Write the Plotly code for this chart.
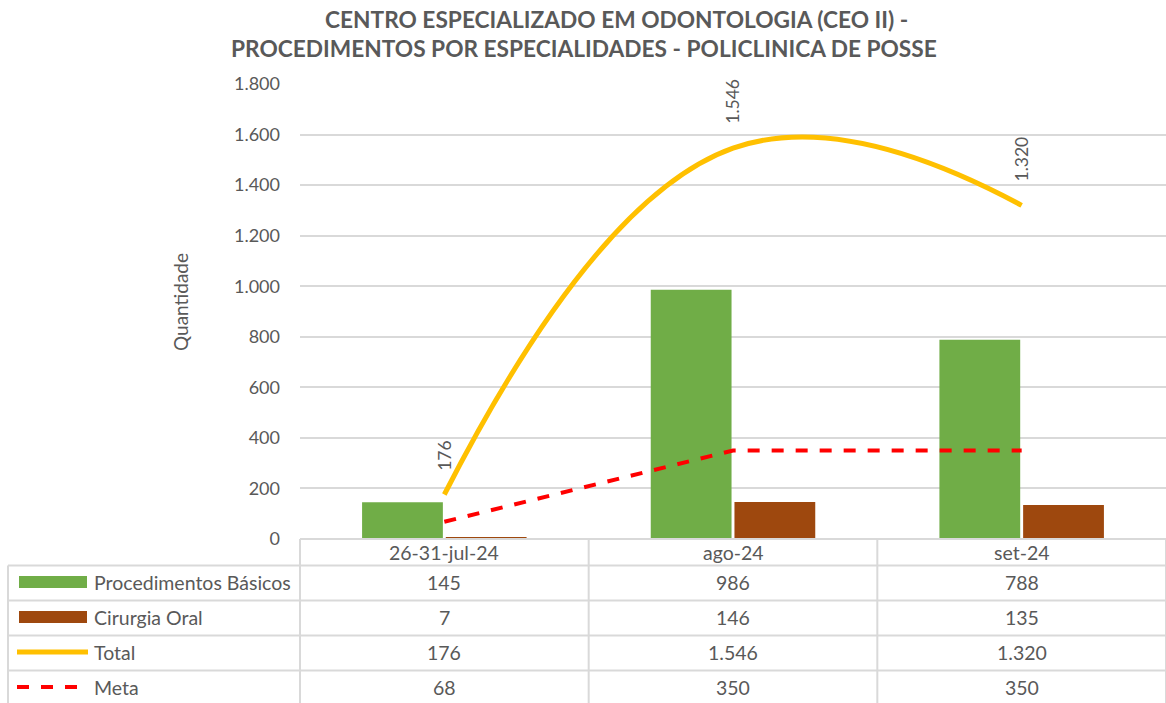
import plotly.graph_objects as go

categories = ["26-31-jul-24", "ago-24", "set-24"]
basicos = [145, 986, 788]
cirurgia = [7, 146, 135]
total = [176, 1546, 1320]
meta = [68, 350, 350]
series_names = ["Procedimentos Básicos", "Cirurgia Oral", "Total", "Meta"]
yticks = [0, 200, 400, 600, 800, 1000, 1200, 1400, 1600, 1800]
title_lines = ["CENTRO ESPECIALIZADO EM ODONTOLOGIA (CEO II) -",
               "PROCEDIMENTOS POR ESPECIALIDADES - POLICLINICA DE POSSE"]

GREEN = "#70AD47"
BROWN = "#9E480E"
YELLOW = "#FFC000"
RED = "#FF0000"
TXT = "#595959"
GRID = "#D9D9D9"
FONT = "Lato"
TABLE_SIZE = 19.5

W, H = 1166, 703
L, R, T, B = 300, 0, 84, 164
PW = W - L - R
PH = H - T - B
Y0 = H - B  # pixel y of plot bottom


def fmt(v):
    return f"{v:,}".replace(",", ".")


def px_x(px):
    return (px - L) / PW


def px_y(py):
    return (Y0 - py) / PH


xpos = [i + 0.5 for i in range(len(categories))]

fig = go.Figure()
fig.add_trace(go.Bar(x=xpos, y=basicos, name=series_names[0], marker=dict(color=GREEN, line=dict(width=0))))
fig.add_trace(go.Bar(x=xpos, y=cirurgia, name=series_names[1], marker=dict(color=BROWN, line=dict(width=0))))
fig.add_trace(go.Scatter(x=xpos, y=total, name=series_names[2], mode="lines",
                         line=dict(color=YELLOW, width=5, shape="spline", smoothing=1.25)))
fig.add_trace(go.Scatter(x=xpos, y=meta, name=series_names[3], mode="lines",
                         line=dict(color=RED, width=4, dash="dash")))

shapes = []
annotations = []

# Title (two centred lines)
for txt, cx, cy in zip(title_lines, [616, 584], [19, 48]):
    annotations.append(dict(x=px_x(cx), y=px_y(cy), xref="paper", yref="paper", text=f"<b>{txt}</b>",
                            showarrow=False, xanchor="center", yanchor="middle",
                            font=dict(family=FONT, size=22.7, color=TXT)))

# Total data labels (rotated)
for x, v in zip(xpos, total):
    annotations.append(dict(x=x, y=v, xref="x", yref="y", text=fmt(v), showarrow=False,
                            textangle=-90, yanchor="bottom", xanchor="center", yshift=22,
                            font=dict(family=FONT, size=17.5, color=TXT)))

# Data table
col_edges = [L + i * PW / len(categories) for i in range(len(categories) + 1)]
row_edges = [539, 565.5, 600.5, 635.5, 670.5, 705.5]
table_left = 8
line_style = dict(color=GRID, width=2)

shapes.append(dict(type="line", xref="paper", yref="paper", x0=px_x(L), x1=px_x(W),
                   y0=px_y(row_edges[0]), y1=px_y(row_edges[0]), line=line_style))
for ry in row_edges[1:]:
    shapes.append(dict(type="line", xref="paper", yref="paper", x0=px_x(table_left), x1=px_x(W),
                       y0=px_y(ry), y1=px_y(ry), line=line_style))
for cx in col_edges:
    shapes.append(dict(type="line", xref="paper", yref="paper", x0=px_x(cx), x1=px_x(cx),
                       y0=px_y(row_edges[0]), y1=px_y(row_edges[-1]), line=line_style))
shapes.append(dict(type="line", xref="paper", yref="paper", x0=px_x(table_left), x1=px_x(table_left),
                   y0=px_y(row_edges[1]), y1=px_y(row_edges[-1]), line=line_style))

for i, c in enumerate(categories):
    cx = (col_edges[i] + col_edges[i + 1]) / 2
    annotations.append(dict(x=px_x(cx), y=px_y((row_edges[0] + row_edges[1]) / 2), xref="paper", yref="paper",
                            text=c, showarrow=False, xanchor="center", yanchor="middle",
                            font=dict(family=FONT, size=TABLE_SIZE, color=TXT)))

rows = [basicos, cirurgia, total, meta]
for r, vals in enumerate(rows):
    ymid = (row_edges[r + 1] + row_edges[r + 2]) / 2 - 1
    for i, v in enumerate(vals):
        cx = (col_edges[i] + col_edges[i + 1]) / 2
        annotations.append(dict(x=px_x(cx), y=px_y(ymid), xref="paper", yref="paper",
                                text=fmt(v), showarrow=False, xanchor="center", yanchor="middle",
                                font=dict(family=FONT, size=TABLE_SIZE, color=TXT)))
    annotations.append(dict(x=px_x(92), y=px_y(ymid), xref="paper", yref="paper",
                            text=series_names[r], showarrow=False, xanchor="left", yanchor="middle",
                            font=dict(family=FONT, size=TABLE_SIZE, color=TXT)))
    if r < 2:
        shapes.append(dict(type="rect", xref="paper", yref="paper", x0=px_x(19), x1=px_x(87),
                           y0=px_y(ymid - 6), y1=px_y(ymid + 6), line=dict(width=0),
                           fillcolor=GREEN if r == 0 else BROWN))
    elif r == 2:
        shapes.append(dict(type="line", xref="paper", yref="paper", x0=px_x(17), x1=px_x(88),
                           y0=px_y(ymid), y1=px_y(ymid), line=dict(color=YELLOW, width=5)))
    else:
        shapes.append(dict(type="line", xref="paper", yref="paper", x0=px_x(17), x1=px_x(88),
                           y0=px_y(ymid), y1=px_y(ymid), line=dict(color=RED, width=4, dash="dash")))

annotations.append(dict(x=px_x(180), y=px_y(302), xref="paper", yref="paper", text="Quantidade",
                        showarrow=False, textangle=-90, xanchor="center", yanchor="middle",
                        font=dict(family=FONT, size=19, color=TXT)))

fig.update_layout(
    width=W, height=H,
    margin=dict(l=L, r=R, t=T, b=B),
    paper_bgcolor="white", plot_bgcolor="white",
    separators=",.",
    barmode="group", bargap=0.42, bargroupgap=0.035,
    showlegend=False,
    xaxis=dict(range=[0, 3], showticklabels=False, showgrid=False, zeroline=False, showline=False,
               fixedrange=True),
    yaxis=dict(range=[0, 1800], tickvals=yticks, tickformat=",d", showgrid=True, gridcolor=GRID,
               gridwidth=2, zeroline=False, showline=False, ticks="", ticklabelstandoff=19,
               tickfont=dict(family=FONT, size=18, color=TXT), fixedrange=True),
    shapes=shapes,
    annotations=annotations,
    font=dict(family=FONT, color=TXT),
)

fig.write_html("out.html", config={"displayModeBar": False})

# remove default page margin so the figure sits at the window's top-left corner
with open("out.html", "r", encoding="utf-8") as f:
    html = f.read()
html = html.replace("<head>", "<head><style>html,body{margin:0;padding:0;overflow:hidden;}</style>", 1)
with open("out.html", "w", encoding="utf-8") as f:
    f.write(html)
